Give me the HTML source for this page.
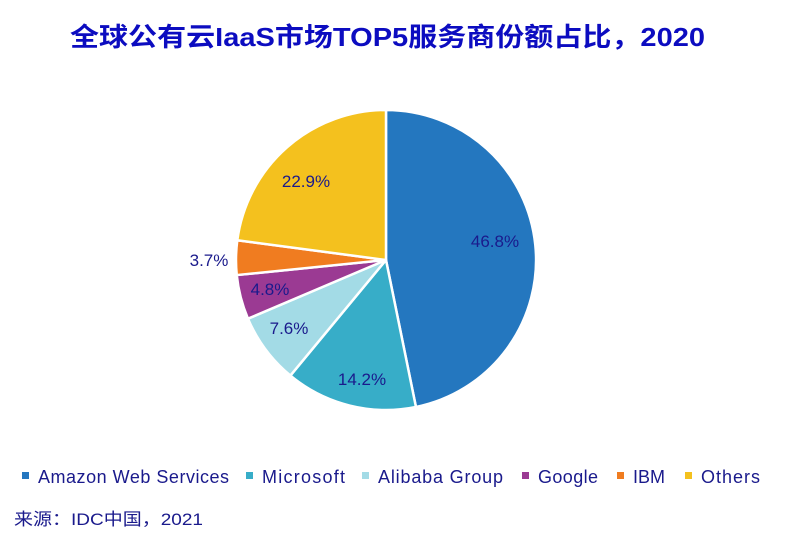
<!DOCTYPE html>
<html><head><meta charset="utf-8"><style>
body{margin:0;background:#fff;width:786px;height:542px;overflow:hidden;font-family:"Liberation Sans","Noto Sans CJK SC",sans-serif;}
</style></head><body>
<svg width="786" height="542" xmlns="http://www.w3.org/2000/svg" font-family="Liberation Sans, Noto Sans CJK SC, sans-serif">
<text x="70" y="46" font-size="26" font-weight="bold" fill="#0c0cc0" textLength="635" lengthAdjust="spacingAndGlyphs">全球公有云IaaS市场TOP5服务商份额占比，2020</text>
<g stroke="#fff" stroke-width="2.5" stroke-linejoin="round">
<path d="M386,260 L386,110 A150,150 0 0 1 415.95,406.99 Z" fill="#2477bf"/>
<path d="M386,260 L415.95,406.99 A150,150 0 0 1 290.4,375.6 Z" fill="#37adc8"/>
<path d="M386,260 L290.4,375.6 A150,150 0 0 1 247.96,318.7 Z" fill="#a3dbe6"/>
<path d="M386,260 L247.96,318.7 A150,150 0 0 1 236.75,275.06 Z" fill="#9b3a93"/>
<path d="M386,260 L236.75,275.06 A150,150 0 0 1 237.3,240.25 Z" fill="#f07c20"/>
<path d="M386,260 L237.3,240.25 A150,150 0 0 1 386,110 Z" fill="#f4c11e"/>
</g>
<g font-size="17" fill="#1a1a8c" text-anchor="middle">
<text x="495" y="247">46.8%</text>
<text x="362" y="385">14.2%</text>
<text x="289" y="334">7.6%</text>
<text x="270" y="295">4.8%</text>
<text x="209" y="266">3.7%</text>
<text x="306" y="187">22.9%</text>
</g>
<g font-size="18" fill="#1a1a8c" lengthAdjust="spacingAndGlyphs">
<rect x="22" y="472" width="7" height="7" fill="#2477bf"/><text x="38" y="483" textLength="191">Amazon Web Services</text>
<rect x="246" y="472" width="7" height="7" fill="#37adc8"/><text x="262" y="483" textLength="83">Microsoft</text>
<rect x="362" y="472" width="7" height="7" fill="#a3dbe6"/><text x="378" y="483" textLength="125">Alibaba Group</text>
<rect x="522" y="472" width="7" height="7" fill="#9b3a93"/><text x="538" y="483" textLength="60">Google</text>
<rect x="617" y="472" width="7" height="7" fill="#f07c20"/><text x="633" y="483" textLength="32">IBM</text>
<rect x="685" y="472" width="7" height="7" fill="#f4c11e"/><text x="701" y="483" textLength="59">Others</text>
</g>
<text x="14" y="525" font-size="17" fill="#1a1a8c" textLength="189" lengthAdjust="spacingAndGlyphs">来源：IDC中国，2021</text>
</svg>
</body></html>
